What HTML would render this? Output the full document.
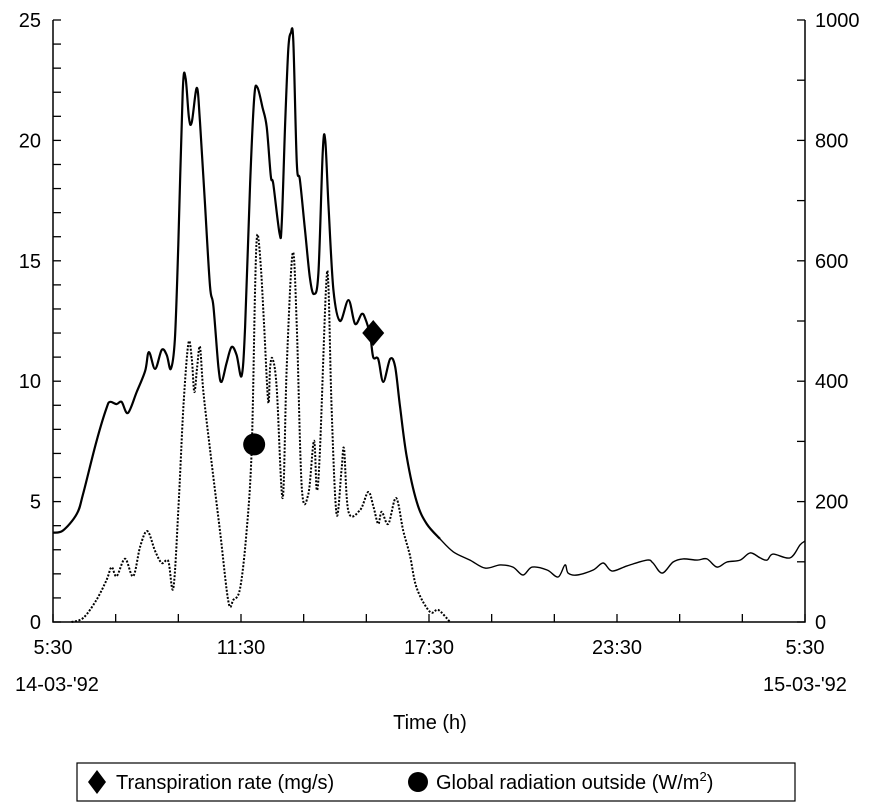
<!DOCTYPE html>
<html><head><meta charset="utf-8"><style>
html,body{margin:0;padding:0;background:#fff;}
svg{display:block;font-family:"Liberation Sans",Arial,sans-serif;}
</style></head><body>
<svg id="chart" width="870" height="804" viewBox="0 0 870 804" xmlns="http://www.w3.org/2000/svg">
<g id="axes"></g>
<g id="series"></g>
<text x="430" y="729" font-size="20" text-anchor="middle">Time (h)</text>
<text x="57" y="691" font-size="20" text-anchor="middle">14-03-'92</text>
<text x="805" y="691" font-size="20" text-anchor="middle">15-03-'92</text>
<g>
<rect x="77" y="763" width="718" height="38" fill="#fff" stroke="#000" stroke-width="1.2"/>
<polygon points="97,770 106,782 97,794 88,782" fill="#000"/>
<text x="116" y="789" font-size="20">Transpiration rate (mg/s)</text>
<circle cx="418" cy="782" r="10" fill="#000"/>
<text x="436" y="789" font-size="20">Global radiation outside (W/m<tspan font-size="13" dy="-8">2</tspan><tspan dy="8">)</tspan></text>
</g>
</svg>
<script>
const leftTicks = [0,5,10,15,20,25];
const rightTicks = [0,200,400,600,800,1000];
const xTickLabels = ["5:30","11:30","17:30","23:30","5:30"];
const transHours = [0,0.32,0.76,0.96,1.39,1.71,1.82,2.03,2.19,2.39,2.67,2.94,3.06,3.26,3.47,3.63,3.76,3.89,4.00,4.14,4.23,4.34,4.43,4.59,4.69,4.85,5.01,5.12,5.28,5.38,5.54,5.70,5.86,6.02,6.13,6.29,6.42,6.52,6.69,6.82,6.95,7.03,7.23,7.30,7.41,7.51,7.59,7.67,7.78,7.88,8.04,8.20,8.33,8.47,8.61,8.69,8.79,8.95,9.16,9.43,9.64,9.85,9.96,10.12,10.22,10.38,10.54,10.76,10.92,11.08,11.29,11.61,11.93,12.35,12.78,13.31,13.79,14.27,14.68,15.00,15.29,15.77,16.12,16.34,16.44,16.73,17.24,17.56,17.84,18.32,18.96,19.15,19.44,19.79,20.11,20.56,20.87,21.19,21.51,21.93,22.25,22.57,22.79,22.98,23.52,23.84,24.0];
const transValues = [3.71,3.80,4.49,5.32,7.52,8.89,9.14,9.05,9.14,8.68,9.55,10.42,11.21,10.51,11.30,11.09,10.51,11.75,15.66,22.01,22.61,20.93,20.76,22.18,20.76,17.36,13.95,13.12,10.59,9.97,10.76,11.42,11.09,10.22,12.25,18.19,21.76,22.21,21.35,20.56,18.52,18.19,16.15,16.53,20.76,23.80,24.46,24.13,19.06,18.36,16.32,14.29,13.62,14.49,19.56,19.98,17.36,13.79,12.50,13.37,12.38,12.79,12.62,11.92,11.00,10.92,9.97,10.92,10.59,8.89,6.85,4.98,4.07,3.45,2.91,2.57,2.24,2.37,2.28,1.95,2.28,2.16,1.87,2.37,2.03,1.95,2.16,2.45,2.12,2.33,2.57,2.45,2.03,2.49,2.62,2.57,2.62,2.28,2.49,2.57,2.87,2.66,2.57,2.82,2.66,3.20,3.36];
const radHours = [0.59,0.97,1.39,1.71,1.87,2.03,2.30,2.56,2.78,3.01,3.26,3.47,3.68,3.84,4.00,4.16,4.32,4.43,4.51,4.60,4.69,4.80,5.01,5.33,5.60,5.76,5.97,6.18,6.34,6.45,6.52,6.63,6.74,6.87,6.93,7.01,7.14,7.33,7.46,7.65,7.78,7.94,8.15,8.33,8.42,8.52,8.71,8.79,8.89,9.05,9.21,9.29,9.43,9.80,10.06,10.22,10.38,10.49,10.70,10.95,11.18,11.39,11.61,12.03,12.30,12.67];
const radValues = [0,7,37,70,91,76,105,76,125,151,118,98,101,56,186,355,463,437,382,423,457,382,287,151,33,37,56,151,287,555,643,593,490,365,423,437,389,206,423,613,490,223,213,301,219,287,551,558,356,179,254,287,183,186,216,193,163,183,163,206,151,111,56,17,20,0];
const transMarker = {h:10.22, v:12.0};
const radMarker = {h:6.42, v:295};

const X0=53, X1=805, YB=622, YT=20;
const xs = h => X0 + h*(X1-X0)/24;
const yL = v => YB - v*(YB-YT)/25;
const yR = v => YB - v*(YB-YT)/1000;
const NS="http://www.w3.org/2000/svg";
const axes=document.getElementById('axes'), series=document.getElementById('series');
function mk(tag, attrs, parent){const e=document.createElementNS(NS,tag);for(const k in attrs)e.setAttribute(k,attrs[k]);parent.appendChild(e);return e;}
function smooth(pts){
  let d=`M${pts[0][0].toFixed(1)},${pts[0][1].toFixed(1)}`;
  for(let i=0;i<pts.length-1;i++){
    const p0=pts[Math.max(0,i-1)],p1=pts[i],p2=pts[i+1],p3=pts[Math.min(pts.length-1,i+2)];
    const c1x=p1[0]+(p2[0]-p0[0])/6,c1y=p1[1]+(p2[1]-p0[1])/6;
    const c2x=p2[0]-(p3[0]-p1[0])/6,c2y=p2[1]-(p3[1]-p1[1])/6;
    d+=` C${c1x.toFixed(1)},${c1y.toFixed(1)} ${c2x.toFixed(1)},${c2y.toFixed(1)} ${p2[0].toFixed(1)},${p2[1].toFixed(1)}`;
  }
  return d;
}

const frame = mk('path',{d:`M${X0},${YT} L${X0},${YB} L${X1},${YB} L${X1},${YT}`,fill:'none',stroke:'#000','stroke-width':1.5},axes);


for(let v=0;v<=25;v++){
  const t=mk('line',{x1:X0,x2:X0+8,y1:yL(v),y2:yL(v),stroke:'#000','stroke-width':1.3},axes);
  
  
}
leftTicks.forEach(v=>{
  const t=mk('text',{x:X0-12,y:yL(v)+7,'font-size':20,'text-anchor':'end'},axes);t.textContent=v;
  
  
});
for(let v=0;v<=1000;v+=100){
  const t=mk('line',{x1:X1-8,x2:X1,y1:yR(v),y2:yR(v),stroke:'#000','stroke-width':1.3},axes);
  
  
}
rightTicks.forEach(v=>{
  const t=mk('text',{x:X1+10,y:yR(v)+7,'font-size':20},axes);t.textContent=v;
  
  
});
for(let h=0;h<=24;h+=2){
  const t=mk('line',{x1:xs(h),x2:xs(h),y1:YB,y2:YB-8,stroke:'#000','stroke-width':1.3},axes);
  
  
}
xTickLabels.forEach((s,i)=>{
  const t=mk('text',{x:xs(i*6),y:YB+32,'font-size':20,'text-anchor':'middle'},axes);t.textContent=s;
  
  
});
const rpts = radHours.map((h,i)=>[xs(h), yR(radValues[i])]);
const rl = mk('path',{d:smooth(rpts),fill:'none',stroke:'#000','stroke-width':2,'stroke-dasharray':'2,1.6','stroke-linejoin':'round'},series);


const tpts = transHours.map((h,i)=>[xs(h), yL(transValues[i])]);
const split = transHours.findIndex(h=>h>=12.35);
const tl = mk('path',{d:smooth(tpts.slice(0,split+1)),fill:'none',stroke:'#000','stroke-width':2.2,'stroke-linejoin':'round'},series);


const tl2 = mk('path',{d:smooth(tpts.slice(split)),fill:'none',stroke:'#000','stroke-width':1.4,'stroke-linejoin':'round'},series);


const dx=xs(transMarker.h), dy=yL(transMarker.v);
const dm = mk('polygon',{points:`${dx},${dy-13} ${dx+11},${dy} ${dx},${dy+13} ${dx-11},${dy}`,fill:'#000'},series);


const cm = mk('circle',{cx:xs(radMarker.h),cy:yR(radMarker.v),r:11,fill:'#000'},series);


</script>
</body></html>
